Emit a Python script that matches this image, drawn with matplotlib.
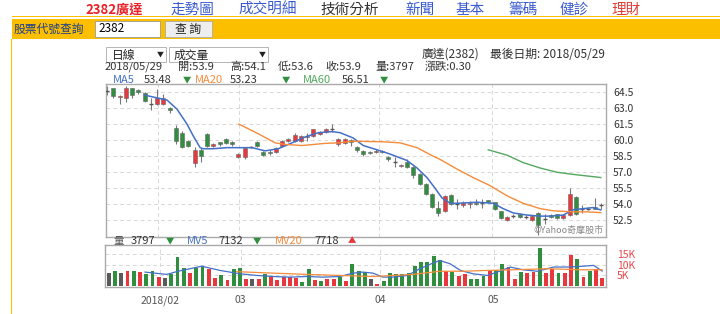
import matplotlib.pyplot as plt
from matplotlib.patches import Rectangle

plt.rcParams['font.family'] = ['Noto Sans CJK TC', 'DejaVu Sans']

# daily candles, 2018/01/22 .. 2018/05/29 (index = trading day)
opens = [64.6, 64.9, 64.0, 63.9, 64.9, 64.7, 64.4, 63.4, 63.4, 63.4,
         63.0, 61.1, 60.7, 59.9, 57.9, 59.1, 60.6, 59.5, 59.8, 60.1,
         59.8, 58.4, 58.4, 59.4, 59.8, 58.9, 58.9, 58.9, 59.5, 59.9,
         59.9, 59.9, 60.3, 60.4, 60.6, 60.8, 61.0, 59.6, 59.7, 60.0,
         59.4, 59.0, 58.9, 58.9, 59.0, 58.4, 58.0, 57.6, 58.0, 57.5,
         56.8, 55.9, 55.0, 53.7, 53.4, 54.9, 54.0, 53.9, 54.0, 54.1,
         54.1, 54.4, 54.2, 53.4, 52.5, 52.9, 53.1, 52.8, 52.5, 53.2,
         52.6, 53.0, 53.1, 52.7, 53.0, 54.7, 53.6, 53.6, 53.8, 53.9]
highs = [65.1, 64.9, 64.2, 65.1, 64.9, 64.8, 64.5, 63.9, 64.8, 64.3,
         63.1, 61.4, 60.9, 60.0, 59.4, 59.3, 60.7, 59.7, 59.8, 60.2,
         59.9, 58.8, 59.4, 59.5, 59.9, 59.0, 59.1, 59.4, 60.0, 60.2,
         60.7, 60.5, 60.7, 61.0, 60.9, 61.1, 61.5, 60.2, 60.2, 60.1,
         59.5, 59.1, 59.0, 59.2, 59.1, 58.5, 58.4, 57.8, 58.2, 57.6,
         56.9, 56.0, 55.1, 54.3, 54.9, 55.0, 54.5, 54.3, 54.3, 54.5,
         54.5, 54.4, 54.2, 53.4, 52.9, 53.1, 53.2, 53.0, 53.0, 53.3,
         53.1, 53.1, 53.1, 53.1, 55.5, 54.8, 53.9, 53.8, 54.6, 54.1]
lows = [64.2, 63.9, 63.4, 63.6, 63.9, 64.3, 63.6, 62.8, 63.3, 63.3,
        62.5, 59.6, 59.3, 59.4, 57.5, 58.0, 59.4, 59.4, 59.5, 59.6,
        59.5, 58.3, 58.2, 59.3, 59.4, 58.5, 58.6, 58.8, 59.4, 59.8,
        59.8, 59.8, 59.9, 60.3, 60.5, 60.7, 60.8, 59.5, 59.6, 59.5,
        58.9, 58.5, 58.7, 58.8, 58.8, 58.1, 57.5, 57.5, 57.4, 56.5,
        55.8, 54.9, 53.7, 52.9, 53.3, 53.9, 53.6, 53.8, 53.7, 53.9,
        53.7, 54.1, 53.5, 52.6, 52.4, 52.7, 52.7, 52.6, 52.4, 51.1,
        52.2, 52.7, 52.6, 52.6, 52.9, 53.0, 53.2, 53.5, 53.6, 53.6]
closes = [64.6, 64.1, 64.1, 64.9, 64.2, 64.5, 63.7, 63.4, 63.9, 63.9,
          62.8, 59.9, 59.4, 59.5, 59.1, 58.5, 59.5, 59.6, 59.6, 59.7,
          59.6, 58.7, 59.3, 59.4, 59.5, 58.6, 58.8, 59.3, 59.9, 60.1,
          60.5, 60.4, 60.4, 61.0, 60.8, 61.0, 61.0, 60.1, 60.1, 59.8,
          59.1, 58.7, 58.8, 59.0, 58.9, 58.2, 58.0, 57.7, 57.5, 56.7,
          55.9, 55.0, 53.8, 53.2, 54.8, 54.0, 54.0, 54.1, 54.1, 54.0,
          54.1, 54.2, 53.6, 52.7, 52.8, 52.9, 52.8, 52.8, 52.9, 52.1,
          52.6, 52.8, 52.7, 53.0, 55.0, 53.1, 53.6, 53.6, 53.6, 53.9]

# volume in thousand lots, direction vs previous close (1 up, -1 down, 0 flat)
volumes = [6.3, 7.0, 6.3, 7.0, 7.3, 6.5, 5.6, 7.0, 4.4, 3.7,
           5.7, 13.7, 8.4, 6.3, 8.7, 9.5, 7.9, 4.0, 5.1, 2.9,
           7.9, 8.7, 3.3, 3.5, 3.2, 5.7, 4.1, 3.0, 4.1, 4.1,
           3.7, 1.9, 7.9, 2.9, 2.5, 3.2, 3.3, 4.3, 2.5, 10.3,
           7.3, 6.8, 3.5, 1.0, 2.4, 6.0, 5.9, 5.9, 6.3, 9.5,
           11.3, 11.3, 14.3, 12.4, 7.1, 6.7, 4.8, 5.7, 3.2, 3.5,
           4.8, 7.6, 7.6, 10.5, 9.2, 3.2, 6.7, 6.0, 6.5, 17.9,
           6.3, 7.9, 6.0, 6.3, 14.8, 12.7, 4.4, 7.3, 8.1, 3.8]
vol_dir = [0, -1, 0, 1, -1, 1, -1, -1, 1, 0,
           -1, -1, -1, 1, -1, -1, 1, 1, -1, 1,
           -1, -1, 1, 0, 1, -1, 1, 1, 1, 1,
           1, -1, -1, 1, -1, 1, 1, -1, 1, -1,
           -1, -1, 0, 1, -1, -1, -1, -1, -1, -1,
           -1, -1, -1, -1, 1, -1, 1, 1, -1, -1,
           -1, 1, -1, -1, 1, 1, -1, 1, 1, -1,
           1, 1, -1, 1, 1, -1, 1, -1, 1, 1]

# moving average curves (day index, value)
ma5_x = [6.1, 9.6, 11.2, 12.8, 13.8, 14.9, 15.4, 17.0, 19.2, 21.0, 23.2, 25.3, 27.4,
         29.6, 31.7, 33.8, 36.0, 37.3, 39.4, 41.0, 43.2, 45.3, 48.0, 49.6, 51.2, 52.5,
         53.6, 54.9, 56.0, 59.2, 61.8, 63.4, 65.0, 67.2, 69.3, 70.9, 73.0, 74.6, 76.2,
         77.8, 79.0]
ma5_y = [64.2, 63.75, 62.9, 61.5, 60.4, 59.3, 59.2, 59.2, 59.3, 59.3, 59.3, 59.0, 59.2,
         59.75, 60.3, 60.7, 60.8, 60.7, 60.2, 59.5, 59.1, 58.7, 58.1, 57.4, 56.5, 55.5,
         54.6, 54.1, 54.1, 54.2, 54.1, 53.6, 53.2, 53.0, 52.9, 52.9, 53.0, 53.5, 53.6,
         53.7, 53.48]
ma20_x = [21.1, 24.2, 26.9, 28.5, 31.2, 34.9, 37.0, 39.2, 44.2, 46.9, 49.6, 52.2, 53.3,
          56.0, 58.6, 61.3, 64.0, 66.6, 69.3, 71.4, 74.6, 76.8, 79.0]
ma20_y = [61.5, 60.6, 59.75, 59.6, 59.5, 59.7, 59.75, 59.9, 59.85, 59.75, 59.3, 58.5, 58.2,
          57.3, 56.5, 55.75, 54.8, 54.1, 53.6, 53.4, 53.3, 53.3, 53.23]
ma60_x = [61.0, 64.0, 66.6, 69.3, 72.0, 74.6, 79.0]
ma60_y = [59.1, 58.6, 57.9, 57.4, 57.0, 56.8, 56.51]

mv5_x = [5.8, 9.3, 11.1, 13.0, 14.9, 15.9, 17.8, 19.4, 21.0, 23.7, 26.3, 29.0, 31.7,
         34.3, 37.0, 39.1, 40.7, 42.3, 43.9, 45.5, 47.8, 49.8, 51.9, 53.0, 54.6, 56.3,
         58.3, 60.6, 62.2, 64.3, 66.3, 68.6, 71.2, 73.4, 75.5, 77.6, 79.0]
mv5_y = [6.6, 5.5, 7.0, 8.2, 9.4, 8.7, 7.4, 6.6, 5.8, 5.0, 4.5, 4.2, 4.5,
         4.2, 4.5, 6.1, 6.6, 6.1, 4.2, 4.2, 5.0, 8.2, 10.9, 12.1, 10.6, 7.4,
         5.8, 5.0, 6.6, 9.0, 7.7, 7.0, 9.0, 9.0, 9.3, 9.8, 7.1]
mv20_x = [20.5, 26.3, 31.7, 37.0, 42.3, 48.7, 53.0, 56.7, 60.6, 64.7, 70.2, 75.5, 79.0]
mv20_y = [6.8, 6.1, 5.5, 5.0, 4.5, 5.5, 7.0, 7.0, 7.4, 7.7, 8.2, 7.7, 7.7]

price_ticks = [52.5, 54.0, 55.5, 57.0, 58.5, 60.0, 61.5, 63.0, 64.5]
vol_ticks = [5, 10, 15]
vol_tick_labels = ['5K', '10K', '15K']
month_pos = [8.2, 21.1, 43.5, 61.6]
month_labels = ['2018/02', '03', '04', '05']

W, H = 720, 314
RED, GREEN, GRAY = '#e8383d', '#2f8f3f', '#5a5a5a'
BLUE, ORANGE, MGREEN = '#4470c8', '#f68b3a', '#52a85e'


def fx(x):
    return x / W


def fy(y):
    return 1 - y / H


def box(x0, y0, x1, y1, **kw):
    fig.add_artist(Rectangle((fx(x0), fy(y1)), (x1 - x0) / W, (y1 - y0) / H,
                             transform=fig.transFigure, **kw))


def txt(x, y, s, **kw):
    kw.setdefault('va', 'center')
    fig.text(fx(x), fy(y), s, **kw)


fig = plt.figure(figsize=(7.2, 3.14), dpi=100)

# page header
txt(85, 10, '2382廣達', color='#e8232a', fontsize=9.5, fontweight='bold')
nav = [('走勢圖', 171, '#3a5bd0'), ('成交明細', 238, '#3a5bd0'), ('技術分析', 320, '#333333'),
       ('新聞', 405, '#3a5bd0'), ('基本', 456, '#3a5bd0'), ('籌碼', 508, '#3a5bd0'),
       ('健診', 560, '#3a5bd0'), ('理財', 611, '#e0403a')]
for s, x, c in nav:
    txt(x, 10, s, color=c, fontsize=10.5)
box(12, 16, 720, 17, color='#fcbf00', lw=0)
box(12, 19, 720, 39, color='#fcbf00', lw=0)
box(11, 39, 12, 314, color='#fcbf00', lw=0)
txt(14, 29, '股票代號查詢', color='#1d3c8f', fontsize=8.5)
box(95, 21, 160, 37, facecolor='white', edgecolor='#999999', lw=0.6)
txt(98, 29, '2382', color='black', fontsize=8.5)
box(165, 21, 212, 37, facecolor='#eeeeee', edgecolor='#aaaaaa', lw=0.6)
txt(188, 29, '查 詢', color='#222222', fontsize=8.5, ha='center')

# chart header
box(106, 47, 166, 62, facecolor='white', edgecolor='#aaaaaa', lw=0.6)
box(169, 47, 268, 62, facecolor='white', edgecolor='#aaaaaa', lw=0.6)
txt(112, 55, '日線', color='#222222', fontsize=8.5)
txt(157, 55, '▼', color='#222222', fontsize=5)
txt(174, 55, '成交量', color='#222222', fontsize=8.5)
txt(259, 55, '▼', color='#222222', fontsize=5)
txt(422, 54, '廣達(2382)', color='#333333', fontsize=8.5)
txt(490, 54, '最後日期: 2018/05/29', color='#333333', fontsize=8.5)

info = [('2018/05/29', 105), ('開:53.9', 178), ('高:54.1', 230), ('低:53.6', 278),
        ('收:53.9', 325), ('量:3797', 375), ('漲跌:0.30', 425)]
for s, x in info:
    txt(x, 67, s, color='#333333', fontsize=8)
legend = [('MA5', BLUE, 113, '53.48', 144, '▼', GREEN, 183),
          ('MA20', ORANGE, 195, '53.23', 230, '▼', GREEN, 282),
          ('MA60', MGREEN, 303, '56.51', 342, '▼', GREEN, 380)]
for name, c, x, val, xv, arrow, ca, xa in legend:
    txt(x, 80, name, color=c, fontsize=8)
    txt(xv, 80, val, color='#333333', fontsize=8)
    txt(xa, 80, arrow, color=ca, fontsize=6)

# price panel
ax = fig.add_axes([fx(106), fy(237), 500 / W, 153 / H])
ax.set_xlim(-0.16, 79.84)
ax.set_ylim(50.95, 65.25)
for i in range(len(opens)):
    o, h, l, c = opens[i], highs[i], lows[i], closes[i]
    ax.vlines(i, l, h, color='#777777', lw=0.8, zorder=2)
    if c > o:
        col = RED
    elif c < o:
        col = GREEN
    else:
        ax.hlines(o, i - 0.32, i + 0.32, color='#555555', lw=1.0, zorder=3)
        continue
    ax.bar(i, abs(c - o), bottom=min(o, c), width=0.64, color=col,
           edgecolor='#666666', lw=0.4, zorder=3)
ax.plot(ma5_x, ma5_y, color=BLUE, lw=1.1, zorder=4)
ax.plot(ma20_x, ma20_y, color=ORANGE, lw=1.0, zorder=4)
ax.plot(ma60_x, ma60_y, color=MGREEN, lw=1.0, zorder=4)
ax.set_yticks(price_ticks)
ax.set_yticklabels([f'{v:.1f}' for v in price_ticks])
ax.yaxis.tick_right()
ax.set_xticks(month_pos)
ax.set_xticklabels([])
ax.tick_params(length=0, labelsize=7.5, labelcolor='#333333', pad=5)
ax.grid(True, color='#d8d8d8', ls=(0, (4, 3)), lw=0.7)
ax.set_axisbelow(True)
for sp in ax.spines.values():
    sp.set_color('#aaaaaa')
    sp.set_linewidth(1.0)
ax.text(0.995, 0.015, '©Yahoo奇摩股市', transform=ax.transAxes, ha='right', va='bottom',
        fontsize=6.5, color='#888888')

# volume header
txt(113, 241, '量', color='#555555', fontsize=7.5)
vol_legend = [('3797', '#333333', 131, '▼', GREEN, 166),
              ('MV5', BLUE, 187, None, None, None),
              ('7132', '#333333', 218, '▼', GREEN, 253),
              ('MV20', ORANGE, 275, None, None, None),
              ('7718', '#333333', 314, '▲', RED, 348)]
for s, c, x, arrow, ca, xa in vol_legend:
    txt(x, 241, s, color=c, fontsize=8)
    if arrow:
        txt(xa, 241, arrow, color=ca, fontsize=6)

# volume panel
vx = fig.add_axes([fx(105), fy(287), 501 / W, 42 / H])
vx.set_xlim(-0.6, 79.6)
vx.set_ylim(-0.5, 19.5)
vcolors = [RED if d > 0 else GREEN if d < 0 else GRAY for d in vol_dir]
vx.bar(range(len(volumes)), volumes, width=0.62, color=vcolors, zorder=2)
vx.plot(mv5_x, mv5_y, color=BLUE, lw=0.9, zorder=3)
vx.plot(mv20_x, mv20_y, color=ORANGE, lw=0.9, zorder=3)
vx.set_yticks(vol_ticks)
vx.set_yticklabels(vol_tick_labels)
vx.yaxis.tick_right()
vx.set_xticks(month_pos)
vx.set_xticklabels(month_labels)
vx.tick_params(length=0, labelsize=7.5, pad=6)
vx.tick_params(axis='y', labelcolor='#e8474a', pad=8)
vx.tick_params(axis='x', labelcolor='#555555')
vx.grid(True, color='#d8d8d8', ls=(0, (4, 3)), lw=0.7)
vx.set_axisbelow(True)
for sp in vx.spines.values():
    sp.set_color('#aaaaaa')
    sp.set_linewidth(1.0)

fig.savefig('out.png', dpi=100)
